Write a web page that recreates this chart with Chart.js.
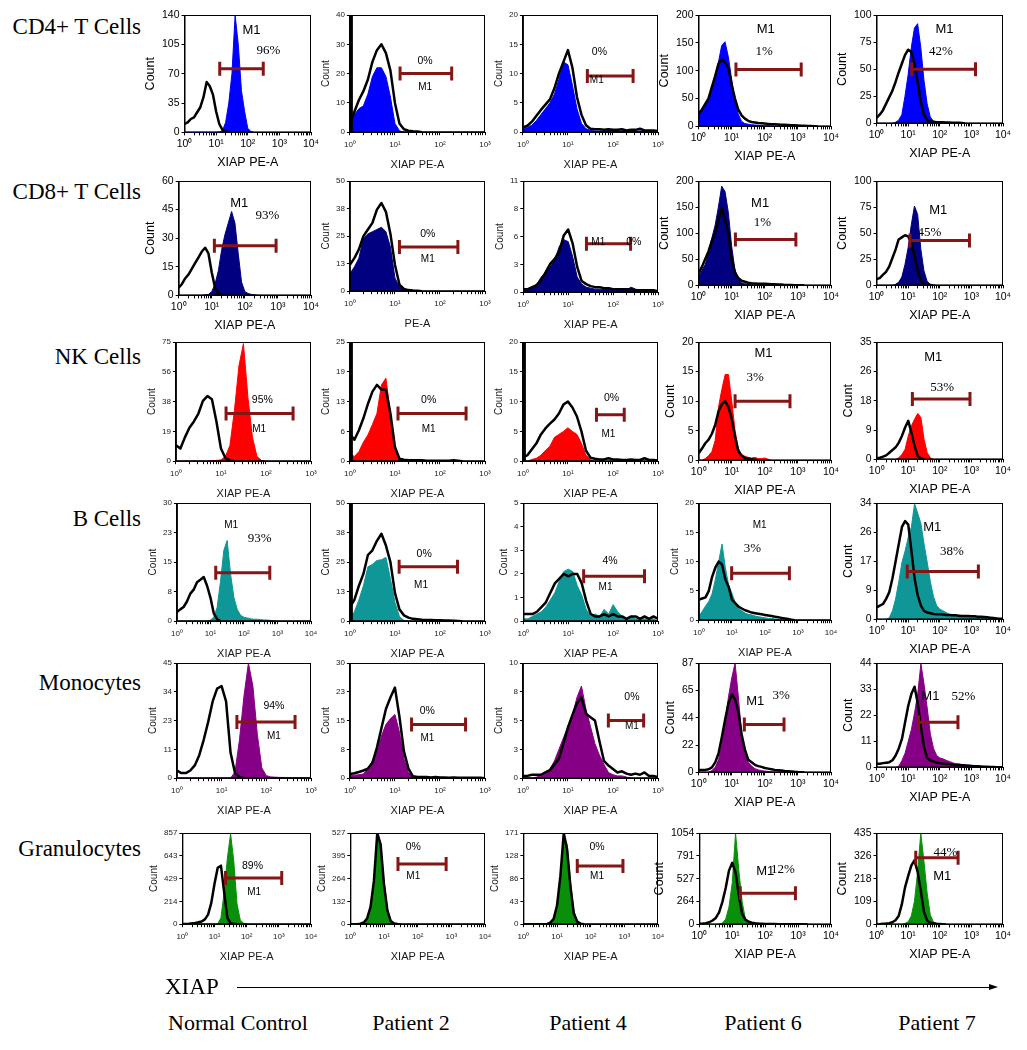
<!DOCTYPE html>
<html>
<head>
<meta charset="utf-8">
<title>XIAP expression by flow cytometry</title>
<script src="https://cdn.jsdelivr.net/npm/chart.js@4.4.1/dist/chart.umd.min.js"></script>
<style>
    body { margin: 0; background: #fff; }
    #page { position: relative; width: 1027px; height: 1050px; overflow: hidden; background: #fff; }
    .panel { position: absolute; }
    .serifText { position: absolute; font-family: "Liberation Serif", "Times New Roman", serif; color: #000; white-space: nowrap; line-height: 1; }
    #arrowLine { position: absolute; left: 237px; top: 987px; width: 753px; height: 1px; background: #000; }
    #arrowHead { position: absolute; left: 989px; top: 984px; width: 0; height: 0;
        border-left: 9px solid #000; border-top: 3.5px solid transparent; border-bottom: 3.5px solid transparent; }
</style>
</head>
<body>
<div id="page">
    <div id="arrowLine"></div>
    <div id="arrowHead"></div>
</div>
<script>
const cellTypes = ['CD4+ T Cells', 'CD8+ T Cells', 'NK Cells', 'B Cells', 'Monocytes', 'Granulocytes'];
const subjects = ['Normal Control', 'Patient 2', 'Patient 4', 'Patient 6', 'Patient 7'];
const markerName = 'XIAP';

// % of events inside the M1 gate
const percentM1 = [
    [96, 0, 0, 1, 42],
    [93, 0, 0, 1, 45],
    [95, 0, 0, 3, 53],
    [93, 0, 4, 3, 38],
    [94, 0, 0, 3, 52],
    [89, 0, 0, 12, 44]
];

// number of log decades on the PE-A axis
const decades = [
    [4, 3, 3, 4, 4],
    [4, 3, 3, 4, 4],
    [3, 3, 3, 4, 4],
    [4, 3, 3, 4, 4],
    [3, 3, 3, 4, 4],
    [4, 4, 4, 4, 4]
];

// count axis tick labels
const countTicks = [
    [[0, 35, 70, 105, 140], [0, 10, 20, 30, 40], [0, 5, 10, 15, 20], [0, 50, 100, 150, 200], [0, 25, 50, 75, 100]],
    [[0, 15, 30, 45, 60], [0, 13, 25, 38, 50], [0, 3, 6, 8, 11], [0, 50, 100, 150, 200], [0, 25, 50, 75, 100]],
    [[0, 19, 38, 56, 75], [0, 6, 13, 19, 25], [0, 5, 10, 15, 20], [0, 5, 10, 15, 20], [0, 9, 18, 26, 35]],
    [[0, 8, 15, 23, 30], [0, 13, 25, 38, 50], [0, 1, 2, 3, 4, 5], [0, 5, 10, 15, 20], [0, 9, 17, 26, 34]],
    [[0, 11, 23, 34, 45], [0, 8, 15, 23, 30], [0, 3, 5, 8, 10], [0, 22, 44, 65, 87], [0, 11, 22, 33, 44]],
    [[0, 214, 429, 643, 857], [0, 132, 264, 395, 527], [0, 43, 86, 128, 171], [0, 264, 527, 791, 1054], [0, 109, 218, 326, 435]]
];

const xTitles = [
    ['XIAP PE-A', 'XIAP PE-A', 'XIAP PE-A', 'XIAP PE-A', 'XIAP PE-A'],
    ['XIAP PE-A', 'PE-A', 'XIAP PE-A', 'XIAP PE-A', 'XIAP PE-A'],
    ['XIAP PE-A', 'XIAP PE-A', 'XIAP PE-A', 'XIAP PE-A', 'XIAP PE-A'],
    ['XIAP PE-A', 'XIAP PE-A', 'XIAP PE-A', 'XIAP PE-A', 'XIAP PE-A'],
    ['XIAP PE-A', 'XIAP PE-A', 'XIAP PE-A', 'XIAP PE-A', 'XIAP PE-A'],
    ['XIAP PE-A', 'XIAP PE-A', 'XIAP PE-A', 'XIAP PE-A', 'XIAP PE-A']
];

// M1 gate: lower / upper PE-A limit and the count level it is drawn at
const gateLow = [
    [13, 13, 27, 13.5, 13],
    [12, 12.6, 25.5, 13, 11.5],
    [13, 11.7, 43, 12.6, 13.5],
    [14.4, 12.4, 22, 9.8, 9.3],
    [22, 23.4, 79, 24, 21],
    [22, 26, 40, 17.5, 17.4]
];
const gateHigh = [
    [309, 182, 280, 1260, 1350],
    [880, 250, 245, 870, 870],
    [400, 380, 178, 575, 900],
    [590, 245, 500, 550, 1660],
    [440, 370, 480, 380, 375],
    [1230, 700, 910, 830, 380]
];
const gateLevel = [
    [76, 20, 9.6, 102, 50],
    [26, 20, 4.8, 88, 43],
    [30, 10, 7.8, 10, 18],
    [12.3, 23, 1.9, 8, 14],
    [22, 14, 5, 38, 19],
    [433, 348, 109, 360, 317]
];

// histogram counts, one value per 0.1 decade starting at 10^0
const cd4Stained = [
    [0, 0, 0, 0, 0, 0, 0, 0, 0, 0, 0, 0.5, 2, 12, 35, 70, 140, 105, 50, 25, 5, 1, 0],
    [4, 6, 8, 9, 13, 19, 22, 22, 19, 12, 3, 0.5, 0],
    [0.5, 0.8, 1.2, 2, 3, 4, 5, 6.5, 9, 12, 11.5, 8, 4, 1.5, 0.6, 0.3, 0.2, 0.2, 0.2, 0.3, 0.2, 0.2, 0.2, 0.3, 0.2, 0.2, 0.2, 0.3, 0.2, 0.2, 0.1],
    [23, 30, 40, 50, 65, 90, 115, 145, 152, 125, 85, 45, 22, 9, 5, 4, 3, 2.5, 2, 1.5, 1, 1, 0.5, 0],
    [0, 0, 0, 0, 0, 0, 1, 3, 8, 25, 45, 70, 88, 92, 70, 40, 18, 6, 2, 1, 0.5, 0]
];
const cd4Control = [
    [10, 12, 16, 18, 24, 30, 42, 60, 55, 45, 25, 10, 3, 1, 0.5, 0],
    [3, 7, 11, 14, 18, 24, 28, 30, 27, 21, 10, 3, 1, 0.5, 0.3, 0.2, 0],
    [0.8, 1.1, 1.8, 2.8, 3.8, 4.7, 5.6, 7.5, 10, 12, 14, 11, 6, 3, 1.2, 0.6, 0.5, 0.5, 0.4, 0.5, 0.4, 0.4, 0.5, 0.3, 0.4, 0.4, 0.6, 0.3, 0.3, 0.3, 0.2],
    [23, 30, 40, 50, 70, 90, 112, 120, 115, 105, 75, 50, 30, 20, 14, 10, 8, 7, 6, 5.5, 5, 4.5, 4, 4, 3.5, 3, 3, 2.5, 2, 2, 1.5, 1, 1, 0.8, 0.5, 0.3, 0],
    [5, 8, 12, 18, 24, 30, 38, 47, 55, 63, 68, 66, 55, 38, 20, 8, 3, 2, 1.5, 1, 1, 1, 0.8, 0.8, 0.5, 0.5, 0.5, 0.3, 0]
];
const cd8Stained = [
    [0, 0, 0, 0, 0, 0, 0, 0, 0.3, 0.5, 2, 6, 13, 24, 32, 38, 44, 38, 22, 7, 2, 1, 0.5, 0.3, 0],
    [8, 11, 15, 24, 26, 27, 28, 29, 27, 20, 6, 2, 0.5, 0],
    [0.2, 0.3, 0.5, 0.8, 1.5, 2, 2.5, 3.2, 4.5, 5.2, 5, 3.5, 1.5, 0.8, 0.5, 0.4, 0.3, 0.3, 0.3, 0.4, 0.3, 0.3, 0.3, 0.2, 0.5, 0.3, 0.2, 0.2, 0.2, 0.2, 0.1],
    [17, 28, 40, 60, 90, 115, 150, 190, 180, 140, 75, 30, 12, 5, 3, 2, 1, 0.5, 0],
    [0, 0, 0, 0, 0, 0, 1, 3, 8, 20, 36, 58, 76, 68, 35, 14, 4, 1, 0.5, 0]
];
const cd8Control = [
    [4, 6, 9, 11, 14, 17, 20, 23, 25, 22, 12, 4, 1, 0.3, 0],
    [12, 15, 19, 25, 28, 31, 37, 40, 36, 26, 12, 3, 1, 0.5, 0.3, 0.2, 0],
    [0.3, 0.3, 0.5, 0.7, 1.2, 2, 2.8, 3.3, 4, 5.6, 6.2, 4.8, 2.5, 1.1, 0.8, 0.6, 0.5, 0.5, 0.4, 0.4, 0.3, 0.3, 0.3, 0.3, 0.3, 0.2, 0.2, 0.2, 0.2, 0.2, 0.1],
    [23, 35, 50, 65, 85, 100, 125, 148, 125, 100, 50, 25, 14, 9, 7, 5, 4, 3.5, 3, 3, 3, 2.5, 2, 2, 1.5, 1.5, 1, 1, 1, 0.5, 0.5, 0.3, 0],
    [6, 7, 10, 13, 18, 26, 34, 44, 46, 48, 47, 41, 28, 15, 5, 1.5, 0.5, 0.3, 0]
];
const nkStained = [
    [0, 0, 0, 0, 0, 0, 0, 0, 0.3, 0.5, 0.8, 3, 10, 32, 60, 74, 40, 15, 3, 0.5, 0],
    [1.5, 1, 2, 4, 5.5, 7.7, 10, 16, 17.4, 10, 3, 0.5, 0],
    [0, 0, 0.3, 0.5, 1, 1.8, 2.5, 4, 4.5, 5, 5.6, 5, 4.5, 3, 1, 0.3, 0],
    [0, 0, 0.3, 0.8, 1.5, 3.4, 9, 12, 14.5, 14.5, 10, 5, 2, 1, 0.7, 0.5, 0.4, 0.5, 0.3, 0.3, 0.4, 0.2, 0],
    [0, 0, 0, 0, 0, 0, 0, 0.5, 1.5, 3, 7, 10, 12, 13.7, 12.5, 6, 2, 0.5, 0]
];
const nkControl = [
    [10, 8, 15, 21, 25, 30, 38, 41, 39, 25, 8, 2, 0.5, 0],
    [5.7, 4.5, 6.5, 9, 12, 14.6, 16, 15, 15, 10, 3, 0.5, 0.3, 0.2, 0.2, 0.2, 0.2, 0.1, 0.1, 0.1, 0.1, 0.1, 0.1, 0.2, 0.1, 0],
    [0.6, 1, 2, 3, 4.5, 5.5, 6.3, 7, 8, 9.5, 10, 9, 7.5, 5, 1.8, 0.6, 0.4, 0.3, 0.3, 0.5, 0.3, 0.3, 0.2, 0.2, 0.3, 0.2, 0.2, 0.5, 0.2, 0.2, 0.1],
    [1.2, 2, 2.9, 3.5, 4.5, 6, 8.3, 9.5, 10, 9, 7, 4, 1.5, 0.8, 0.4, 0.3, 0.2, 0.1, 0],
    [0.3, 0.5, 0.8, 1.2, 2, 2.8, 3.6, 5, 7, 9.5, 11.5, 8, 4, 1, 0.3, 0]
];
const bStained = [
    [0, 0, 0, 0, 0, 0, 0, 0, 0, 0, 0.3, 1, 3.5, 10, 18, 20.5, 12, 6, 3, 1.5, 1, 0.8, 0.6, 0.5, 0.5, 0.4, 0.3, 0.3, 0.2, 0.1, 0],
    [1, 4, 9, 15, 23, 24, 25.7, 26, 27, 18, 8, 2, 0.3, 0],
    [0.1, 0.1, 0.2, 0.3, 0.4, 0.6, 0.9, 1.2, 1.7, 2.1, 2.2, 2.1, 1.5, 1.1, 0.5, 0.2, 0.3, 0.2, 0.5, 0.3, 0.7, 0.4, 0.2, 0.1, 0.2, 0.1, 0.1, 0.1, 0.1, 0.1, 0],
    [0.7, 1.5, 2.4, 3.2, 4.5, 7, 10, 13, 9, 6, 4.6, 3, 2, 1.6, 1.2, 1, 0.9, 0.7, 0.6, 0.5, 0.4, 0.3, 0.3, 0.2, 0.1, 0],
    [0, 0, 0, 0, 0.5, 2.5, 6, 11, 16.7, 20, 24, 27, 33.8, 31, 28, 22, 16.7, 11, 6.6, 4, 3, 2.5, 2, 1.5, 1.2, 1, 1, 0.8, 0.8, 0.6, 0.5, 0.5, 0.4, 0.3, 0.2, 0.2, 0.1, 0]
];
const bControl = [
    [2.3, 3, 3.6, 5, 7, 8, 9.9, 10.5, 11.2, 9, 6, 2, 0.5, 0],
    [6, 9, 15, 20, 28, 30, 34, 37, 32, 25, 12, 5, 2.5, 1.5, 1, 0.8, 0.6, 0.5, 0.5, 0.4, 0.4, 0.3, 0.3, 0.2, 0.1, 0],
    [0.3, 0.3, 0.3, 0.4, 0.6, 0.8, 1.2, 1.6, 1.8, 2, 1.9, 2, 2, 1.6, 0.85, 0.3, 0.2, 0.2, 0.3, 0.2, 0.3, 0.2, 0.2, 0.1, 0.2, 0.2, 0.1, 0.2, 0.1, 0.2, 0.1],
    [3.5, 3.7, 3.9, 5, 7.4, 9, 10, 9.5, 7, 5.7, 3.5, 2.9, 2.3, 2, 1.7, 1.5, 1.3, 1.2, 1.1, 1, 0.9, 0.8, 0.7, 0.6, 0.5, 0.4, 0.3, 0.2, 0.1, 0],
    [3.5, 4, 4.5, 6, 8, 12, 17, 22, 27, 28.7, 27.7, 20, 12, 7, 4, 2.5, 2, 1.8, 1.6, 1.5, 1.5, 1.4, 1.3, 1.3, 1.2, 1.2, 1.1, 1, 1, 1, 0.9, 0.9, 0.8, 0.8, 0.7, 0.6, 0.5, 0.4, 0.3, 0.2, 0.2]
];
const monoStained = [
    [0, 0, 0, 0, 0, 0, 0, 0, 0, 0, 0, 0, 0, 2.4, 15, 32, 45, 36, 17, 4, 1, 0.5, 0.4, 0.3, 0.3, 0.2, 0.2, 0.2, 0.2, 0.1, 0.1],
    [0.7, 0.8, 0.9, 1.1, 2.5, 4.5, 7, 11, 14, 15.5, 16.6, 12, 5, 1.5, 0.3, 0],
    [0, 0, 0, 0.1, 0.2, 0.4, 0.8, 1.5, 2.5, 3.5, 4.5, 5.5, 7, 8, 6, 4.5, 3, 2, 1.2, 0.5, 0.3, 0.2, 0.2, 0.1, 0],
    [0, 0, 0, 0, 1.5, 4, 10, 22, 40, 60, 75, 87, 60, 30, 15, 8, 5, 3, 2, 1.5, 1, 0.8, 0.5, 0.3, 0.2, 0.1, 0],
    [0, 0, 0, 0, 0, 0, 0, 0.5, 2.9, 6, 11, 16, 23, 31, 43.7, 35, 25, 14, 8, 5, 4, 3.6, 3, 2.5, 2, 1.5, 1.5, 1.2, 1, 1, 0.8, 0.6, 0.5, 0.4, 0.3, 0.2, 0.2, 0.1, 0]
];
const monoControl = [
    [3, 2, 2, 3, 5, 9, 15, 22, 30, 35, 36, 30, 10, 2, 0.5, 0],
    [1.1, 1.3, 1.6, 2, 2.5, 4, 8, 13, 18, 21, 23.6, 16, 7, 2.5, 0.5, 0.3, 0.3, 0.3, 0.2, 0.3, 0.2, 0.2, 0.1, 0.2, 0.1, 0.1, 0.1, 0.1, 0.1, 0.1, 0],
    [0.2, 0.2, 0.3, 0.3, 0.3, 0.5, 0.7, 1.2, 1.7, 3, 4.4, 5.5, 6.5, 7, 5.6, 5.3, 5, 3.2, 1.5, 1.1, 0.8, 0.5, 0.6, 0.4, 0.3, 0.4, 0.3, 0.5, 0.2, 0.2, 0.1],
    [2, 2, 2, 2.5, 4, 8, 15, 28, 42, 55, 62, 58, 48, 30, 18, 10, 8, 6, 5, 4.4, 3.5, 3, 2.5, 2, 1.8, 1.5, 1.2, 1, 0.8, 0.5, 0.3, 0.2, 0],
    [1.5, 1.5, 1.8, 2, 2.2, 3, 5, 8, 12, 19, 26, 31, 34, 27, 17, 8.5, 4, 2.9, 2.5, 2, 1.8, 1.5, 1.5, 1.3, 1.2, 1, 1, 0.9, 0.8, 0.7, 0.6, 0.5, 0.5, 0.4, 0.3, 0.3, 0.2, 0.2, 0.1, 0.1, 0.1]
];
const granStained = [
    [0, 0, 0, 0, 0, 0, 0, 0, 0, 0, 0, 3, 60, 300, 620, 850, 590, 190, 40, 10, 3, 0],
    [0, 0, 0, 2, 8, 30, 90, 230, 510, 470, 250, 90, 20, 5, 1, 0],
    [0, 0, 0, 0, 0, 0, 0, 0, 2, 8, 30, 80, 165, 150, 80, 25, 6, 1, 0],
    [0, 0, 0, 0, 0, 0, 5, 15, 60, 200, 480, 1050, 620, 260, 60, 12, 3, 0],
    [0, 0, 0, 0, 0, 0, 0, 0, 0, 5, 12, 40, 110, 250, 435, 300, 150, 45, 12, 4, 0]
];
const granControl = [
    [2, 3, 5, 8, 12, 18, 25, 45, 90, 200, 380, 530, 550, 300, 60, 8, 3, 1, 0],
    [0, 0, 0, 3, 10, 35, 100, 250, 527, 460, 230, 80, 18, 4, 1, 0],
    [0, 0, 0, 0, 0, 0, 0, 0, 3, 10, 35, 90, 171, 140, 70, 20, 5, 1, 0],
    [8, 10, 14, 25, 45, 75, 140, 260, 420, 620, 710, 600, 330, 120, 55, 30, 20, 14, 10, 8, 6, 5, 4, 3.5, 3, 3, 2.5, 2, 2, 1.5, 1, 1, 0.5, 0],
    [0, 1, 3, 4, 6, 10, 20, 40, 95, 175, 230, 280, 305, 250, 160, 60, 18, 8, 5, 3, 2, 1, 0]
];

const stainedRows = [cd4Stained, cd8Stained, nkStained, bStained, monoStained, granStained];
const controlRows = [cd4Control, cd8Control, nkControl, bControl, monoControl, granControl];
const rowColors = ['#0000ff', '#000080', '#ff0000', '#0f9696', '#850085', '#0a8f0a'];
const gateColor = '#861515';
const binStep = 0.1;

// ---- layout (pixels / placement only) ----
const firstColLeft = [185, 179, 176, 177, 177, 182];
const boxLeft = [0, 350, 523, 699, 877];
const boxRight = [311, 485, 658, 831, 1003];
const boxTop = [15, 181, 342, 503, 663, 833];
const boxBottom = [
    [132, 132, 132, 126, 123],
    [295, 291, 292, 285, 285],
    [461, 461, 461, 460, 459],
    [621, 621, 621, 620, 619],
    [778, 778, 778, 772, 767],
    [924, 924, 924, 924, 924]
];
const bigText = [
    [1, 0, 0, 1, 1],
    [1, 0, 0, 1, 1],
    [0, 0, 0, 1, 1],
    [0, 0, 0, 0, 1],
    [0, 0, 0, 1, 1],
    [0, 0, 0, 1, 1]
];
const serifPct = [
    [1, 0, 0, 1, 1],
    [1, 0, 0, 1, 1],
    [0, 0, 0, 1, 1],
    [1, 0, 0, 1, 1],
    [0, 0, 0, 1, 1],
    [0, 0, 0, 1, 1]
];
// panels whose left edge carries a heavy off-scale pile-up line
const heavyLeft = [
    [0, 1, 0, 0, 0],
    [0, 0, 0, 0, 0],
    [0, 1, 1, 0, 0],
    [0, 1, 0, 0, 0],
    [0, 0, 0, 0, 0],
    [0, 0, 0, 0, 0]
];
// label anchor: [decade, fraction of plot height]
const m1Pos = [
    [[2.12, 0.87], [1.67, 0.38], [1.64, 0.44], [2.03, 0.87], [2.15, 0.87]],
    [[1.83, 0.80], [1.73, 0.29], [1.67, 0.45], [1.86, 0.79], [1.95, 0.72]],
    [[1.85, 0.27], [1.75, 0.27], [1.9, 0.23], [1.96, 0.90], [1.79, 0.87]],
    [[1.62, 0.81], [1.58, 0.30], [1.83, 0.29], [1.84, 0.81], [1.76, 0.79]],
    [[2.17, 0.36], [1.72, 0.35], [2.42, 0.45], [1.71, 0.65], [1.7, 0.68]],
    [[2.23, 0.35], [1.87, 0.53], [2.19, 0.53], [2.0, 0.58], [2.08, 0.53]]
];
const pctPos = [
    [[2.65, 0.70], [1.67, 0.61], [1.7, 0.68], [1.98, 0.67], [2.04, 0.66]],
    [[2.68, 0.70], [1.73, 0.52], [2.46, 0.45], [1.93, 0.60], [1.67, 0.51]],
    [[1.92, 0.51], [1.75, 0.51], [1.97, 0.53], [1.71, 0.70], [2.07, 0.61]],
    [[2.47, 0.70], [1.65, 0.57], [1.93, 0.51], [1.62, 0.61], [2.38, 0.58]],
    [[2.17, 0.63], [1.72, 0.58], [2.42, 0.70], [2.49, 0.70], [2.75, 0.68]],
    [[2.18, 0.64], [1.87, 0.84], [2.19, 0.84], [2.54, 0.60], [2.18, 0.79]]
];
const rowLabelY = [27, 192, 357, 519, 683, 849];
const colLabelX = [238, 411, 588, 763, 937];

const SUP = ['\u2070', '\u00b9', '\u00b2', '\u00b3', '\u2074'];

const gateText = {
    id: 'gateText',
    afterDatasetsDraw(chart, args, o) {
        const {ctx, chartArea: a} = chart;
        const xs = chart.scales.x;
        const h = a.bottom - a.top;
        ctx.save();
        ctx.strokeStyle = '#000';
        ctx.lineWidth = 1;
        ctx.strokeRect(a.left + 0.5, a.top + 0.5, a.right - a.left - 1, h - 1);
        if (o.heavyLeft) {
            ctx.lineWidth = 3;
            ctx.beginPath();
            ctx.moveTo(a.left + 1.5, a.top);
            ctx.lineTo(a.left + 1.5, a.bottom);
            ctx.stroke();
        }
        ctx.fillStyle = '#000';
        ctx.textAlign = 'center';
        ctx.textBaseline = 'middle';
        ctx.font = o.m1Font;
        ctx.fillText('M1', xs.getPixelForValue(Math.pow(10, o.m1[0])), a.bottom - o.m1[1] * h);
        ctx.font = o.pctFont;
        ctx.fillText(o.pct + '%', xs.getPixelForValue(Math.pow(10, o.pctAt[0])), a.bottom - o.pctAt[1] * h);
        ctx.restore();
    }
};

function histPoints(counts) {
    return counts.map((c, i) => ({x: Math.pow(10, i * binStep), y: c}));
}

function logTicks(dec) {
    const t = [];
    for (let n = 0; n < dec; n++) {
        for (let m = 1; m < 10; m++) t.push(m * Math.pow(10, n));
    }
    t.push(Math.pow(10, dec));
    return t;
}

function buildPanel(page, r, c) {
    const big = bigText[r][c] === 1;
    const dec = decades[r][c];
    const labels = countTicks[r][c];
    const yMax = labels[labels.length - 1];
    const left = c === 0 ? firstColLeft[r] : boxLeft[c];
    const box = {x: left, y: boxTop[r], w: boxRight[c] - left, h: boxBottom[r][c] - boxTop[r]};
    const textColor = big ? '#000' : '#1a1a1a';
    const tickFont = {family: 'Liberation Sans', size: big ? 10.5 : 8};

    const wrap = document.createElement('div');
    wrap.className = 'panel';
    const canvas = document.createElement('canvas');
    canvas.width = box.w + 70;
    canvas.height = box.h + 50;
    wrap.appendChild(canvas);
    page.appendChild(wrap);

    const chart = new Chart(canvas, {
        type: 'line',
        data: {
            datasets: [
                {
                    data: [{x: gateLow[r][c], y: gateLevel[r][c]}, {x: gateHigh[r][c], y: gateLevel[r][c]}],
                    borderColor: gateColor,
                    borderWidth: 3,
                    pointStyle: 'line',
                    pointRotation: 90,
                    pointRadius: 7,
                    pointBorderWidth: 3,
                    pointBorderColor: gateColor,
                    fill: false,
                    order: 0
                },
                {
                    data: histPoints(controlRows[r][c]),
                    borderColor: '#000',
                    borderWidth: 2.5,
                    borderJoinStyle: 'round',
                    pointRadius: 0,
                    fill: false,
                    order: 1
                },
                {
                    data: histPoints(stainedRows[r][c]),
                    borderColor: rowColors[r],
                    backgroundColor: rowColors[r],
                    borderWidth: 1,
                    pointRadius: 0,
                    fill: 'origin',
                    order: 2
                }
            ]
        },
        options: {
            responsive: false,
            maintainAspectRatio: false,
            animation: false,
            devicePixelRatio: 1,
            events: [],
            layout: {padding: {top: 6, right: 12, left: 0, bottom: 0}},
            plugins: {
                legend: {display: false},
                tooltip: {enabled: false},
                gateText: {
                    m1: m1Pos[r][c],
                    pctAt: pctPos[r][c],
                    pct: percentM1[r][c],
                    heavyLeft: heavyLeft[r][c] === 1,
                    m1Font: (big ? '13px' : '10px') + ' "Liberation Sans"',
                    pctFont: serifPct[r][c] ? '13px "Liberation Serif"' : '10.5px "Liberation Sans"'
                }
            },
            scales: {
                x: {
                    type: 'logarithmic',
                    min: 1,
                    max: Math.pow(10, dec),
                    afterBuildTicks: s => { s.ticks = logTicks(dec).map(v => ({value: v})); },
                    ticks: {
                        autoSkip: false,
                        maxRotation: 0,
                        padding: big ? 2 : 5,
                        color: textColor,
                        font: tickFont,
                        callback: (v, i) => (i % 9 === 0 ? '10' + SUP[i / 9] : '')
                    },
                    grid: {drawOnChartArea: false, drawTicks: true, tickLength: 3, color: '#000'},
                    border: {color: '#000'},
                    title: {
                        display: true,
                        text: xTitles[r][c],
                        color: textColor,
                        font: {family: 'Liberation Sans', size: big ? 12.5 : 11},
                        padding: {top: big ? 3 : 4, bottom: 0}
                    }
                },
                y: {
                    type: 'linear',
                    min: 0,
                    max: yMax,
                    afterBuildTicks: s => { s.ticks = labels.map((l, i) => ({value: yMax * i / (labels.length - 1)})); },
                    ticks: {
                        autoSkip: false,
                        padding: 2,
                        color: textColor,
                        font: tickFont,
                        callback: (v, i) => String(labels[i])
                    },
                    grid: {drawOnChartArea: false, drawTicks: true, tickLength: 3, color: '#000'},
                    border: {color: '#000'},
                    title: {
                        display: true,
                        text: 'Count',
                        color: textColor,
                        font: {family: 'Liberation Sans', size: big ? 12.5 : 10},
                        padding: {top: 0, bottom: 2}
                    }
                }
            }
        },
        plugins: [gateText]
    });

    // make the plot area land on the measured box
    const a = chart.chartArea;
    chart.resize(Math.round(chart.width + box.w - (a.right - a.left)), Math.round(chart.height + box.h - (a.bottom - a.top)));
    const b = chart.chartArea;
    wrap.style.left = Math.round(box.x - b.left) + 'px';
    wrap.style.top = Math.round(box.y - b.top) + 'px';
}

const page = document.getElementById('page');

cellTypes.forEach((name, r) => {
    const d = document.createElement('div');
    d.className = 'serifText';
    d.style.fontSize = '23px';
    d.style.right = (1027 - 141) + 'px';
    d.style.top = (rowLabelY[r] - 12) + 'px';
    d.textContent = name;
    page.appendChild(d);
    for (let c = 0; c < subjects.length; c++) buildPanel(page, r, c);
});

subjects.forEach((name, c) => {
    const d = document.createElement('div');
    d.className = 'serifText';
    d.style.fontSize = '22px';
    d.style.left = (colLabelX[c] - 100) + 'px';
    d.style.width = '200px';
    d.style.textAlign = 'center';
    d.style.top = '1012px';
    d.textContent = name;
    page.appendChild(d);
});

const axisName = document.createElement('div');
axisName.className = 'serifText';
axisName.style.fontSize = '23px';
axisName.style.left = '165px';
axisName.style.top = '975px';
axisName.textContent = markerName;
page.appendChild(axisName);
</script>
</body>
</html>
